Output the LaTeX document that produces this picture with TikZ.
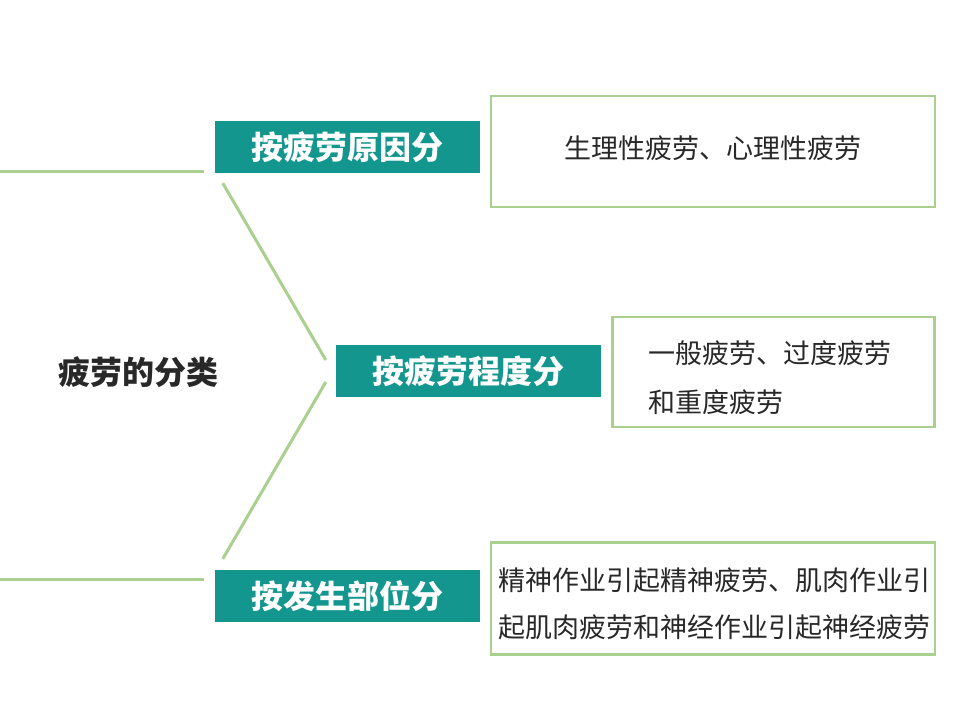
\documentclass[tikz,border=0pt]{standalone}
\usepackage{fontspec}
\setmainfont{Noto Sans CJK SC}
\usetikzlibrary{positioning,calc}
\definecolor{teal1}{RGB}{19,150,141}
\definecolor{leaf}{RGB}{169,208,142}
\definecolor{ink}{RGB}{40,40,40}

\begin{document}
\begin{tikzpicture}[x=1pt,y=1pt,
   head/.style={fill=teal1,text=white,font=\fontsize{32}{32}\selectfont\bfseries,
     minimum width=265pt,minimum height=52pt,inner sep=0pt},
   note/.style={draw=leaf,line width=2.5pt,fill=white,inner sep=0pt},
   notetext/.style={text=ink,font=\fontsize{27}{48}\selectfont,inner sep=0pt},
   link/.style={draw=leaf,line width=3pt}]
  \useasboundingbox[fill=white] (0,0) rectangle (960,-720);
  \node[font=\fontsize{32}{32}\selectfont\bfseries,text=ink] (root) at (138,-372) {疲劳的分类};
  \node[head] (cause) at (347.5,-147) {按疲劳原因分};
  \node[head] (degree) at (468.5,-371) {按疲劳程度分};
  \node[head] (part) at (347.5,-596) {按发生部位分};
  \node[note,minimum width=444pt,minimum height=111pt,
     label={[notetext,yshift=3.5pt]center:生理性疲劳、心理性疲劳}] (causetxt) at (713,-151.5) {};
  \node[note,minimum width=322pt,minimum height=110pt,
     label={[notetext,align=left,text width=250pt,font=\fontsize{27}{49}\selectfont,
       yshift=-6pt]center:{一般疲劳、过度疲劳\\和重度疲劳}}] (degreetxt) at (773.5,-372) {};
  \node[note,minimum width=444pt,minimum height=112pt,
     label={[notetext,align=center,font=\fontsize{27}{47}\selectfont,
       xshift=1.5pt,yshift=-5.5pt]center:{精神作业引起精神疲劳、肌肉作业引\\起肌肉疲劳和神经作业引起神经疲劳}}]
     (parttxt) at (713,-598.5) {};
  % branch lines
  \coordinate (top0) at (0,-171);
  \coordinate (top1) at (204,-171);
  \coordinate (bot0) at (0,-579);
  \coordinate (bot1) at (204,-579);
  \coordinate (up0) at ($(cause.south west)+(8,-10)$);
  \coordinate (up1) at ($(degree.west)+(-10,11)$);
  \coordinate (dn0) at ($(degree.west)+(-10,-11)$);
  \coordinate (dn1) at ($(part.north west)+(8,11)$);
  \draw[link] (top0) -- (top1);
  \draw[link] (bot0) -- (bot1);
  \draw[link] (up0) -- (up1);
  \draw[link] (dn0) -- (dn1);
\end{tikzpicture}
\end{document}
